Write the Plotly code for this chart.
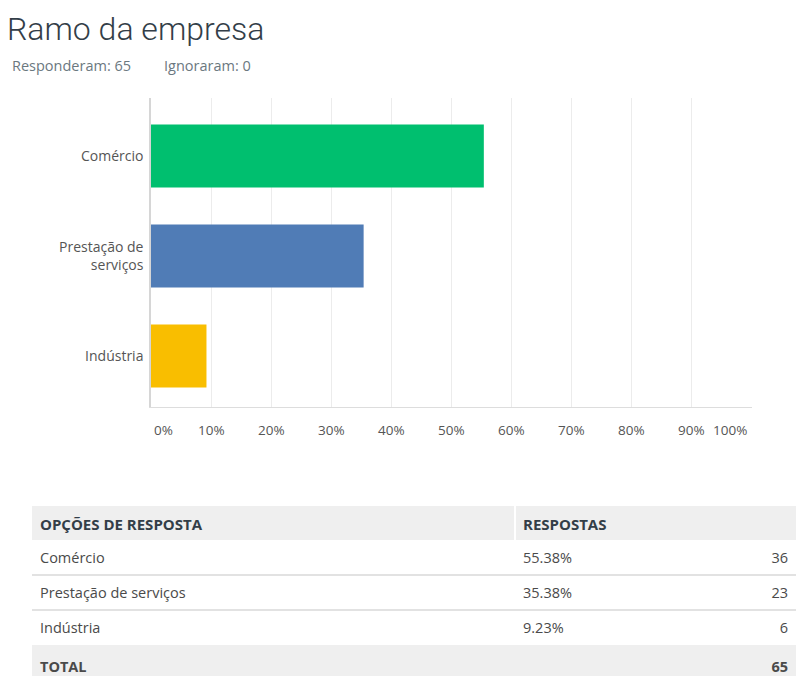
import plotly.graph_objects as go

# ---- data ----
categories = ["Comércio", "Prestação de serviços", "Indústria"]
category_labels = ["Comércio", "Prestação de<br>serviços", "Indústria"]
percentages = [55.38, 35.38, 9.23]
counts = [36, 23, 6]
total = 65
skipped = 0
bar_colors = ["#00bf6f", "#507cb6", "#f9be00"]
tick_values = [0, 10, 20, 30, 40, 50, 60, 70, 80, 90, 100]
tick_labels = [f"{v}%" for v in tick_values]

# page has an 8px body margin; figure sized to fill the rest of the window
OFF = 8
W, H = 804 - OFF, 677 - OFF


def px_x(p):
    return (p - OFF) / W


def px_y(p):
    return 1 - (p - OFF) / H


FONT = "Open Sans"
TFONT = "Roboto"
grey = "#efefef"
fig = go.Figure()

fig.add_trace(go.Bar(
    y=categories,
    x=percentages,
    orientation="h",
    marker=dict(color=bar_colors, line=dict(width=0)),
    width=0.63,
    hoverinfo="skip",
    xaxis="x", yaxis="y",
))

# table
row_fill = ["#ffffff", "#ffffff", "#ffffff", grey]
col1 = categories + ["<b>TOTAL</b>"]
col2 = [f"{p:.2f}%" for p in percentages] + [""]
col3 = [str(c) for c in counts] + [f"<b>{total}</b>"]
col4 = ["", "", "", ""]
widths = [483, 185, 96, 8]

table_left, table_top = 32, 506
fig.add_trace(go.Table(
    domain=dict(x=[px_x(table_left), 1], y=[0, px_y(table_top)]),
    columnwidth=widths,
    header=dict(
        values=["<b>OPÇÕES DE RESPOSTA</b>", "<b>RESPOSTAS</b>", "", ""],
        fill_color=grey,
        line=dict(color=grey, width=1),
        align=["left", "left", "right", "right"],
        font=dict(family=FONT, size=15, color="#333e48"),
        height=38,
    ),
    cells=dict(
        values=[col1, col2, col3, col4],
        fill_color=[row_fill] * 4,
        line=dict(color=[row_fill] * 4, width=1),
        align=["left", "left", "right", "right"],
        font=dict(family=FONT, size=14.5, color="#4a4a4a"),
        height=35,
    ),
))

# header bottom edge / header divider / total row top edge / row separators
fig.add_shape(type="rect", xref="paper", yref="paper", layer="above",
              x0=px_x(table_left), x1=1, y0=px_y(545), y1=px_y(540),
              fillcolor="#ffffff", line=dict(width=0))
fig.add_shape(type="rect", xref="paper", yref="paper", layer="above",
              x0=px_x(table_left), x1=1, y0=px_y(650), y1=px_y(645),
              fillcolor=grey, line=dict(width=0))
div_x = table_left + widths[0]
fig.add_shape(type="line", xref="paper", yref="paper", layer="above",
              x0=px_x(div_x), x1=px_x(div_x), y0=px_y(540), y1=px_y(table_top),
              line=dict(color="#ffffff", width=2))
for yy in [575, 610]:
    fig.add_shape(type="line", xref="paper", yref="paper", layer="above",
                  x0=px_x(table_left), x1=1, y0=px_y(yy), y1=px_y(yy),
                  line=dict(color="#d9d9d9", width=1.5))

annotations = [
    dict(text="Ramo da empresa", x=px_x(5), y=px_y(8), xref="paper", yref="paper",
         xanchor="left", yanchor="top", showarrow=False,
         font=dict(family=TFONT, size=32, color="#333e48", weight=300)),
    dict(text=f"Responderam: {total}", x=px_x(10), y=px_y(66), xref="paper", yref="paper",
         xanchor="left", yanchor="middle", showarrow=False,
         font=dict(family=FONT, size=14.5, color="#6b787f")),
    dict(text=f"Ignoraram: {skipped}", x=px_x(162), y=px_y(66), xref="paper", yref="paper",
         xanchor="left", yanchor="middle", showarrow=False,
         font=dict(family=FONT, size=14.5, color="#6b787f")),
]
for v, lab in zip(tick_values, tick_labels):
    anchor, shift = "center", 0
    if v == 0:
        anchor, shift = "left", 1
    elif v == 100:
        anchor, shift = "right", -3
    annotations.append(dict(text=lab, x=v, xref="x", y=px_y(430), yref="paper",
                            xanchor=anchor, yanchor="middle", showarrow=False,
                            xshift=shift,
                            font=dict(family=FONT, size=13.5, color="#555555")))

fig.update_layout(
    width=W, height=H,
    margin=dict(l=0, r=0, t=0, b=0),
    paper_bgcolor="white", plot_bgcolor="white",
    showlegend=False,
    annotations=annotations,
    xaxis=dict(domain=[px_x(151), px_x(752)], range=[0, 100],
               tickvals=tick_values, showticklabels=False,
               showgrid=True, gridcolor="#ececec", gridwidth=1,
               zeroline=False, showline=True, linecolor="#dddddd", linewidth=1,
               fixedrange=True),
    yaxis=dict(domain=[px_y(407), px_y(98)], range=[2.51, -0.58],
               tickvals=categories, ticktext=category_labels,
               tickfont=dict(family=FONT, size=14, color="#555555"),
               showgrid=False, zeroline=False, showline=True,
               linecolor="#d6d6d6", linewidth=1.5, ticks="",
               ticklabelstandoff=3, fixedrange=True),
    font=dict(family=FONT),
)

fig.write_html("out.html")
